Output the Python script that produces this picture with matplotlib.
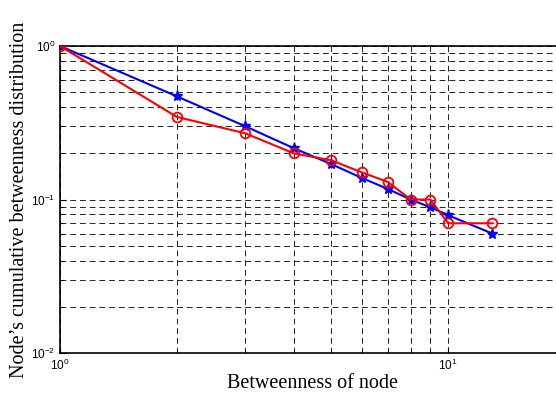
import matplotlib
matplotlib.use("Agg")
import matplotlib.pyplot as plt
from matplotlib.ticker import LogLocator, NullFormatter

x = [1, 2, 3, 4, 5, 6, 7, 8, 9, 10, 13]
blue_y = [1.0, 0.47, 0.30, 0.216, 0.17, 0.138, 0.117, 0.10, 0.089, 0.079, 0.06]
red_y = [1.0, 0.345, 0.27, 0.20, 0.18, 0.15, 0.13, 0.10, 0.10, 0.07, 0.07]

fig = plt.figure(figsize=(5.56, 3.94), dpi=100)
ax = fig.add_axes([60/556, 41/394, 505/556, 307/394])
ax.set_xscale('log')
ax.set_yscale('log')
ax.set_xlim(1, 20)
ax.set_ylim(0.01, 1)

ax.plot(x, blue_y, color='#0000ff', lw=1.5, marker='*', ms=8, mfc='#0000ff', mec='#0000ff', zorder=3)
ax.plot(x, red_y, color='#ff0000', lw=1.5, marker='o', ms=7, mfc='none', mec='#ff0000', mew=1.3, zorder=3)

ax.xaxis.set_major_locator(LogLocator(base=10))
ax.xaxis.set_minor_locator(LogLocator(base=10, subs=range(2, 10)))
ax.yaxis.set_major_locator(LogLocator(base=10))
ax.yaxis.set_minor_locator(LogLocator(base=10, subs=range(2, 10)))
ax.xaxis.set_minor_formatter(NullFormatter())
ax.yaxis.set_minor_formatter(NullFormatter())

ax.grid(True, which='both', color='#222222', ls=(0, (6, 4)), lw=0.7)
ax.tick_params(which='both', direction='in', top=False, right=False, labelsize=8.5)
ax.tick_params(which='major', length=4)
ax.tick_params(which='minor', length=2)
for lab in ax.get_xticklabels() + ax.get_yticklabels():
    lab.set_family('Liberation Sans')
for s in ax.spines.values():
    s.set_linewidth(1.2)

ax.set_xlabel('Betweenness of node', family='Liberation Serif', fontsize=14.5, labelpad=1)
ax.set_ylabel('Node\u2019s cumulative betweenness distribution', family='Liberation Serif', fontsize=14.5, labelpad=1)

fig.savefig('out.png', dpi=100)
